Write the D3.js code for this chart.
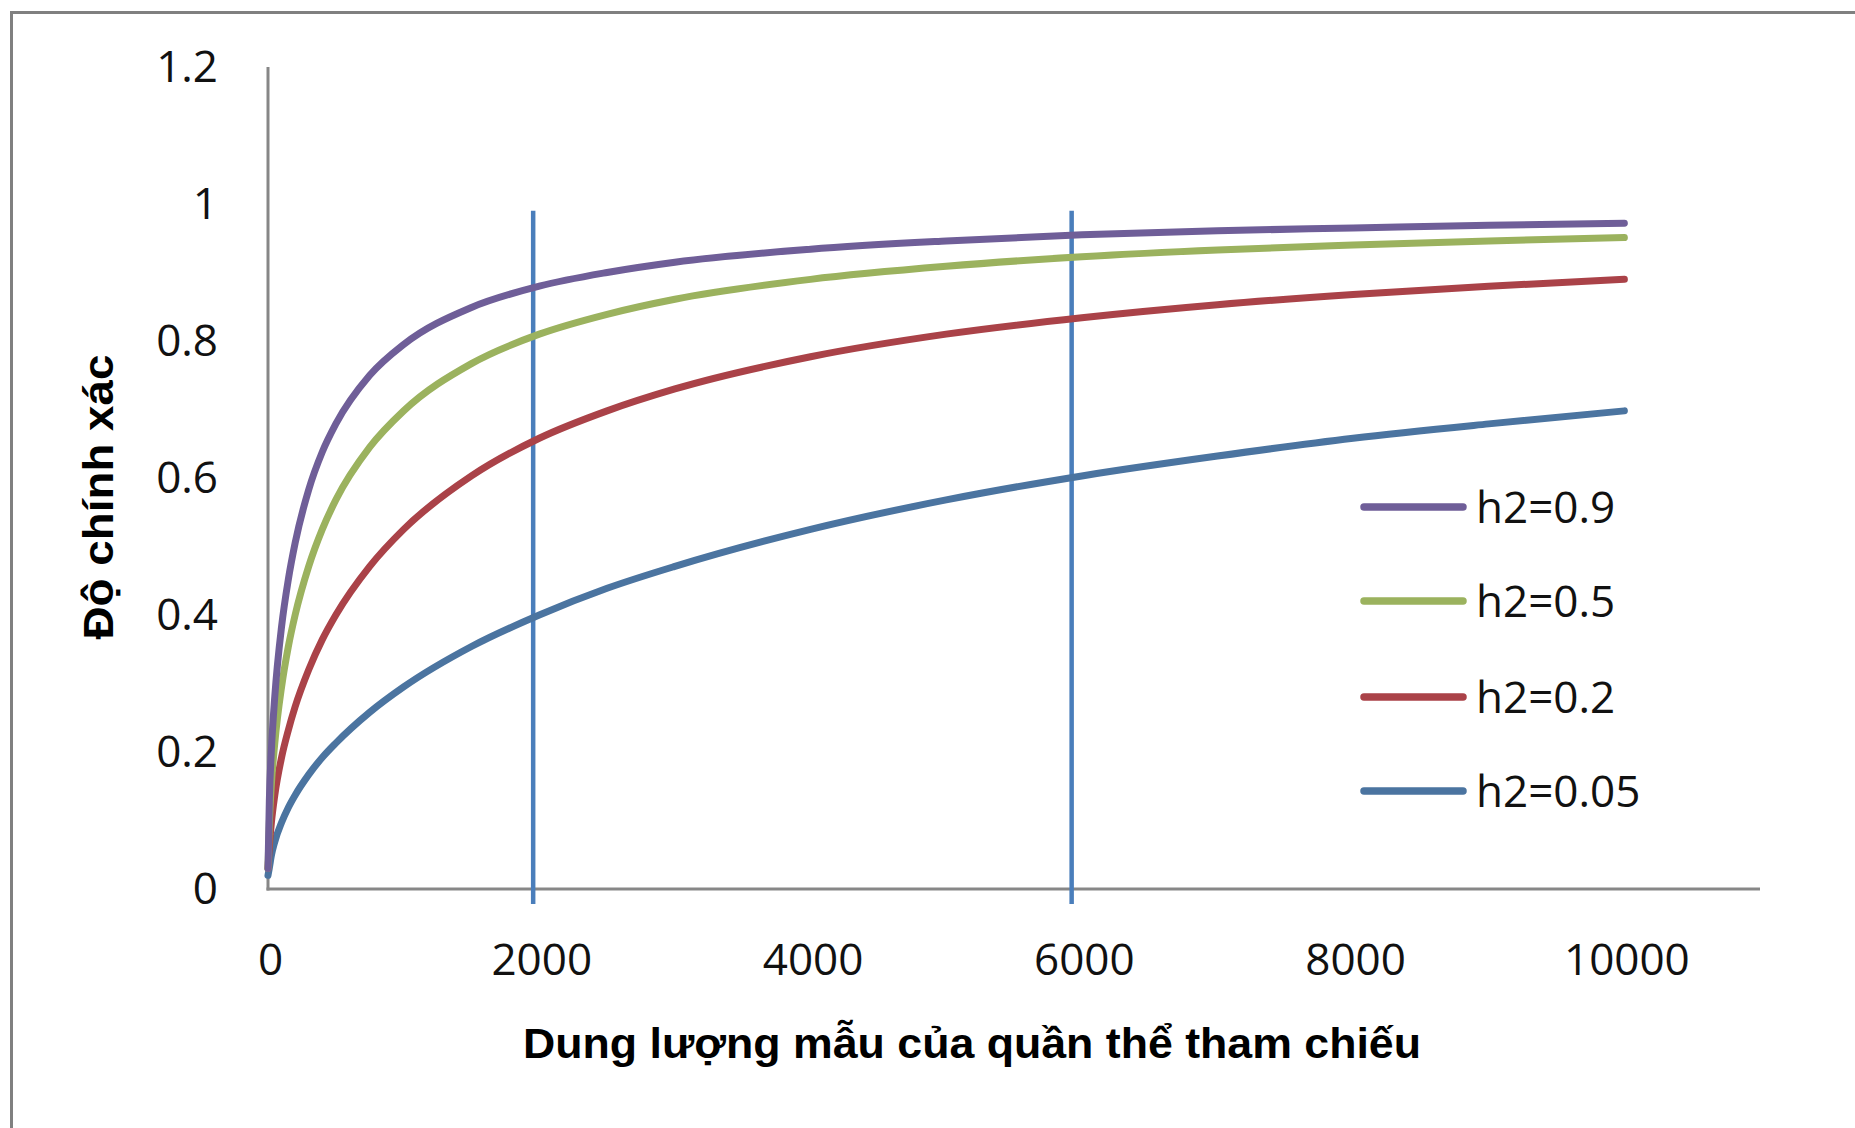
<!DOCTYPE html>
<html>
<head>
<meta charset="utf-8">
<script src="https://cdn.jsdelivr.net/npm/d3@7/dist/d3.min.js"></script>
<style>
  html, body { margin: 0; padding: 0; background: #ffffff; }
  svg { display: block; }
</style>
</head>
<body>
<svg id="chart" width="1855" height="1128"></svg>
<script>
// ---- data ----
const sampleSizes = [0, 10, 25, 50, 100, 150, 200, 300, 400, 500, 750, 1000, 1500, 2000, 2500, 3000, 4000, 5000, 6000, 7000, 8000, 9000, 10000];
const acc_h2_09  = [0.03, 0.130, 0.203, 0.281, 0.383, 0.452, 0.505, 0.583, 0.638, 0.679, 0.750, 0.795, 0.849, 0.880, 0.900, 0.915, 0.934, 0.946, 0.955, 0.961, 0.965, 0.969, 0.972];
const acc_h2_05  = [0.03, 0.097, 0.153, 0.213, 0.295, 0.354, 0.400, 0.471, 0.525, 0.568, 0.645, 0.698, 0.767, 0.810, 0.839, 0.861, 0.890, 0.909, 0.923, 0.933, 0.940, 0.946, 0.951];
const acc_h2_02  = [0.03, 0.062, 0.097, 0.137, 0.192, 0.232, 0.266, 0.320, 0.364, 0.400, 0.471, 0.525, 0.603, 0.658, 0.698, 0.730, 0.777, 0.810, 0.834, 0.853, 0.868, 0.880, 0.890];
const acc_h2_005 = [0.02, 0.031, 0.049, 0.069, 0.097, 0.119, 0.137, 0.167, 0.192, 0.213, 0.258, 0.295, 0.354, 0.400, 0.439, 0.471, 0.525, 0.568, 0.603, 0.632, 0.658, 0.679, 0.698];
const seriesNames = ["h2=0.9", "h2=0.5", "h2=0.2", "h2=0.05"];
const seriesColors = ["#6F5E98", "#9BB25E", "#AA4248", "#4B74A0"];
const markerSizes = [1955, 5925];   // vertical reference lines as drawn
const markerTop = 0.99;
const xTicks = [0, 2000, 4000, 6000, 8000, 10000];
const yTicks = [0, 0.2, 0.4, 0.6, 0.8, 1, 1.2];
const xTitle = "Dung lượng mẫu của quần thể tham chiếu";
const yTitle = "Độ chính xác";

const seriesValues = [acc_h2_09, acc_h2_05, acc_h2_02, acc_h2_005];

// ---- drawing ----
const svg = d3.select("#chart");
const x = d3.scaleLinear().domain([0, 11000]).range([268, 1760]);
const y = d3.scaleLinear().domain([0, 1.2]).range([889, 67]);

// outer frame (top and left edges visible)
svg.append("line").attr("x1", 11.5).attr("x2", 11.5).attr("y1", 12.5).attr("y2", 1128)
  .attr("stroke", "#808080").attr("stroke-width", 3);
svg.append("line").attr("x1", 10).attr("x2", 1855).attr("y1", 12.5).attr("y2", 12.5)
  .attr("stroke", "#808080").attr("stroke-width", 3);

// axes
const xAxis = d3.axisBottom(x).tickValues(xTicks).tickSize(0).tickPadding(0).tickFormat(d3.format("d"));
const gx = svg.append("g").attr("transform", `translate(0,${y(0)})`).call(xAxis);
gx.select(".domain").attr("stroke", "#878787").attr("stroke-width", 3).attr("d", `M${x(0) - 1.5},0H${x(11000)}`);
gx.selectAll(".tick text")
  .attr("y", 86).attr("dy", null).attr("dx", 2)
  .attr("font-family", "'Open Sans', 'Noto Sans', sans-serif")
  .attr("font-size", 44).attr("fill", "#111");

const yAxis = d3.axisLeft(y).tickValues(yTicks).tickSize(0).tickPadding(0)
  .tickFormat(d => d === 0 ? "0" : d === 1 ? "1" : d3.format(".1f")(d));
const gy = svg.append("g").attr("transform", `translate(${x(0)},0)`).call(yAxis);
gy.select(".domain").attr("stroke", "#878787").attr("stroke-width", 3).attr("d", `M0,${y(0) + 1.5}V${y(1.2)}`);
gy.selectAll(".tick text")
  .attr("x", -50).attr("dy", 14)
  .attr("font-family", "'Open Sans', 'Noto Sans', sans-serif")
  .attr("font-size", 44).attr("fill", "#111");

// vertical reference lines
svg.append("g").selectAll("line").data(markerSizes).join("line")
  .attr("x1", d => x(d)).attr("x2", d => x(d))
  .attr("y1", y(markerTop)).attr("y2", y(0) + 15)
  .attr("stroke", "#4A7EBB").attr("stroke-width", 4.5);

// curves
const line = d3.line()
  .x((d, i) => x(sampleSizes[i]))
  .y(d => y(d))
  .curve(d3.curveMonotoneX);

svg.append("g").selectAll("path").data(seriesValues.slice().reverse()).join("path")
  .attr("d", d => line(d))
  .attr("fill", "none")
  .attr("stroke", (d, i) => seriesColors[seriesColors.length - 1 - i])
  .attr("stroke-width", 7)
  .attr("stroke-linejoin", "round")
  .attr("stroke-linecap", "round");

// legend
const legend = svg.append("g");
const legendRows = [507, 601, 697, 791];
seriesNames.forEach((name, i) => {
  legend.append("line")
    .attr("x1", 1364).attr("x2", 1463)
    .attr("y1", legendRows[i]).attr("y2", legendRows[i])
    .attr("stroke", seriesColors[i]).attr("stroke-width", 7.5).attr("stroke-linecap", "round");
  legend.append("text")
    .attr("x", 1476).attr("y", legendRows[i] + 16)
    .attr("font-family", "'Open Sans', 'Noto Sans', sans-serif")
    .attr("font-size", 44).attr("fill", "#111")
    .text(name);
});

// axis titles
svg.append("text")
  .attr("x", 972).attr("y", 1058)
  .attr("text-anchor", "middle")
  .attr("font-family", "'Liberation Sans', Arial, sans-serif")
  .attr("font-weight", "bold").attr("font-size", 42)
  .attr("textLength", 898).attr("lengthAdjust", "spacingAndGlyphs")
  .text(xTitle);

svg.append("text")
  .attr("transform", "translate(113,497) rotate(-90)")
  .attr("text-anchor", "middle")
  .attr("font-family", "'Liberation Sans', Arial, sans-serif")
  .attr("font-weight", "bold").attr("font-size", 42)
  .attr("textLength", 285).attr("lengthAdjust", "spacingAndGlyphs")
  .text(yTitle);
</script>
</body>
</html>
